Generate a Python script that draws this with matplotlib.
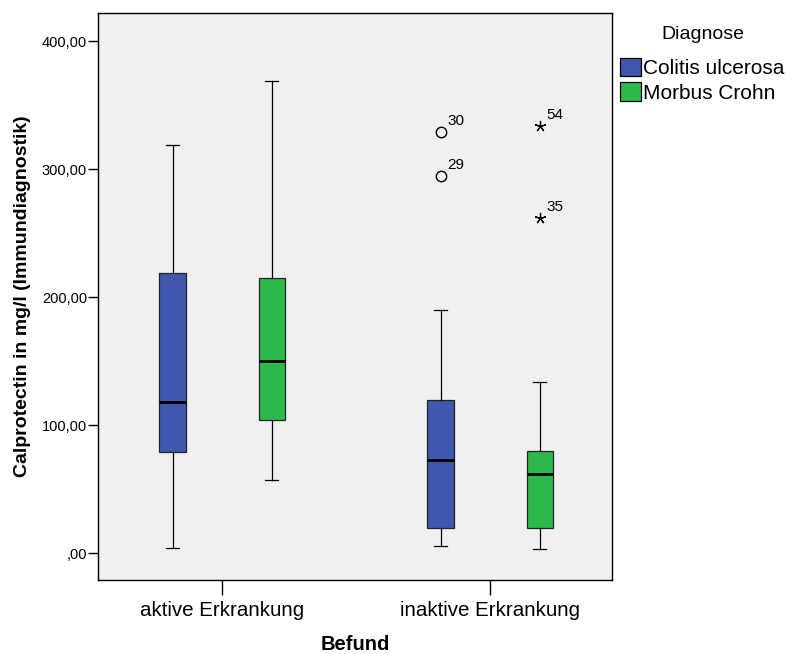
import matplotlib
matplotlib.use("Agg")
import matplotlib.pyplot as plt
from matplotlib.patches import Patch
from matplotlib.ticker import FuncFormatter

plt.rcParams["font.family"] = ["Liberation Sans", "DejaVu Sans"]

# Befund categories and Diagnose groups
befund = ["aktive Erkrankung", "inaktive Erkrankung"]
diagnose = ["Colitis ulcerosa", "Morbus Crohn"]
colors = ["#3F58AD", "#2DB84B"]

# box statistics per group (order: aktiv CU, aktiv MC, inaktiv CU, inaktiv MC)
whislo = [4, 57, 5.5, 3]
q1 = [79, 104, 20, 20]
med = [118, 150, 73, 62]
q3 = [219, 215, 120, 80]
whishi = [319, 369, 190, 134]

# outliers (circle) and extremes (star): (group index, value, case label)
outliers = [(2, 295, "29"), (2, 329, "30")]
extremes = [(3, 262, "35"), (3, 334, "54")]

fig = plt.figure(figsize=(7.86, 6.54), dpi=100)
ax = fig.add_axes([0.1247, 0.1131, 0.654, 0.867])
ax.set_facecolor("#F0F0F0")

offset = 0.185
positions = []
for i in range(len(befund)):
    for j in range(len(diagnose)):
        positions.append(i + 1 + (j - 0.5) * 2 * offset)

stats = []
for k in range(len(positions)):
    stats.append({"whislo": whislo[k], "q1": q1[k], "med": med[k],
                  "q3": q3[k], "whishi": whishi[k], "fliers": []})

bp = ax.bxp(stats, positions=positions, widths=0.098, patch_artist=True,
            showfliers=False,
            medianprops=dict(color="black", linewidth=2),
            whiskerprops=dict(color="black", linewidth=0.9),
            capprops=dict(color="black", linewidth=0.9),
            boxprops=dict(edgecolor="#222222", linewidth=0.9),
            capwidths=0.048)
for k, box in enumerate(bp["boxes"]):
    box.set_facecolor(colors[k % 2])

for g, v, lab in outliers:
    ax.plot(positions[g], v, marker="o", markersize=7.5, markerfacecolor="none",
            markeredgecolor="black", markeredgewidth=1)
    ax.annotate(lab, (positions[g], v), xytext=(5, 5), textcoords="offset points",
                fontsize=11)
for g, v, lab in extremes:
    ax.plot(positions[g], v, marker=(5, 2, 0), markersize=8,
            markeredgecolor="black", markeredgewidth=0.9)
    ax.annotate(lab, (positions[g], v), xytext=(5, 5), textcoords="offset points",
                fontsize=11)

ax.set_xlim(0.537, 2.455)
ax.set_ylim(-21, 422)
ax.set_xticks([1, 2])
ax.set_xticklabels(befund, fontsize=14.8)
ax.set_yticks([0, 100, 200, 300, 400])
ax.yaxis.set_major_formatter(FuncFormatter(
    lambda v, p: ",00" if v == 0 else f"{v:.2f}".replace(".", ",")))
ax.tick_params(axis="y", labelsize=10.5, length=7.5, width=1, pad=0.5)
ax.tick_params(axis="x", length=11, width=1, pad=4)
for s in ax.spines.values():
    s.set_linewidth(1)

ax.set_xlabel("Befund", fontsize=14.5, fontweight="bold", labelpad=11)
ax.set_ylabel("Calprotectin in mg/l (Immundiagnostik)", fontsize=14,
              fontweight="bold", labelpad=8)

handles = [Patch(facecolor=c, edgecolor="black", linewidth=0.9) for c in colors]
leg = fig.legend(handles, diagnose, title="Diagnose", loc="upper left",
                 bbox_to_anchor=(0.789, 0.961), frameon=False, fontsize=15,
                 title_fontsize=14, handlelength=1.0, handleheight=1.0,
                 handletextpad=0.12, labelspacing=0.2, borderaxespad=0,
                 borderpad=0)
leg._legend_box.align = "center"
leg._legend_box.sep = 11

fig.savefig("out.png", dpi=100)
